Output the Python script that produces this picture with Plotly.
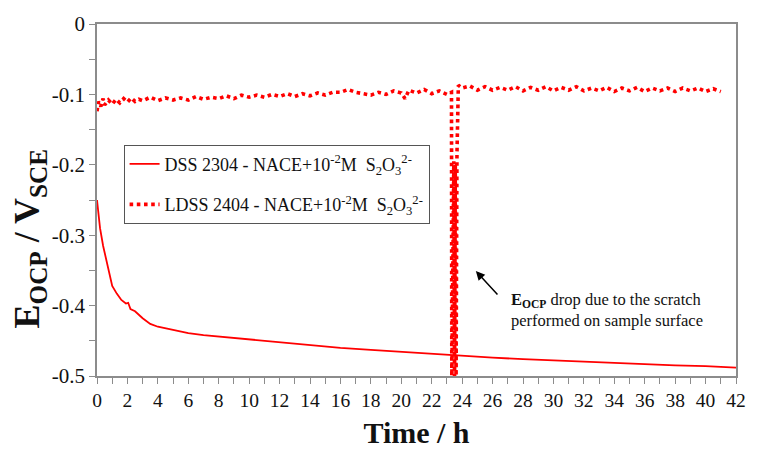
import plotly.graph_objects as go

# ---- data ----
dss_time = [0, 0.2, 0.4, 0.6, 0.8, 1.0, 1.3, 1.6, 1.9, 2.05, 2.2, 2.5, 3.0, 3.5, 4.0,
            5, 6, 7, 8, 9, 10, 12, 14, 16, 18, 20, 22, 24, 26, 28, 30, 32, 34, 36, 38, 40, 42]
dss_eocp = [-0.250, -0.290, -0.315, -0.335, -0.355, -0.372, -0.383, -0.392, -0.397, -0.396,
            -0.405, -0.408, -0.418, -0.426, -0.430, -0.435, -0.439, -0.442, -0.444, -0.447,
            -0.449, -0.453, -0.457, -0.460, -0.463, -0.466, -0.468, -0.471, -0.474, -0.476,
            -0.478, -0.480, -0.482, -0.483, -0.485, -0.486, -0.488]

ldss_time = [0, 0.1, 0.25, 0.4, 0.5, 0.75, 1, 1.25, 1.5, 1.75, 2, 2.25, 2.5, 2.75, 3, 3.5, 4, 4.5,
             5, 5.5, 6, 6.5, 7, 7.5, 8, 8.5,
             9, 9.5, 10, 10.5, 11, 11.5, 12, 12.5, 13, 13.5, 14, 14.5, 15, 15.5, 16, 16.5,
             17, 17.5, 18, 18.5, 19, 19.5, 20, 20.25, 20.5, 21, 21.5, 22, 22.5, 23, 23.3,
             23.32, 23.45, 23.5, 23.55, 23.6, 23.62, 23.66,
             23.75, 24, 24.5, 25, 25.5, 26, 26.5, 27, 27.5, 28, 28.5, 29, 29.5, 30, 30.5,
             31, 31.5, 32, 32.5, 33, 33.5, 34, 34.5, 35, 35.5, 36, 36.5, 37, 37.5, 38, 38.5,
             39, 39.5, 40, 40.5, 41, 41.5, 42]
ldss_eocp = [-0.124, -0.110, -0.117, -0.106, -0.115, -0.108, -0.114, -0.107, -0.112, -0.106,
             -0.111, -0.105, -0.110, -0.107, -0.109, -0.104, -0.109, -0.105, -0.108, -0.105,
             -0.108, -0.103, -0.107, -0.104, -0.106, -0.102,
             -0.106, -0.101, -0.104, -0.101, -0.104, -0.100, -0.103, -0.099, -0.103, -0.099,
             -0.102, -0.098, -0.101, -0.097, -0.097, -0.093, -0.097, -0.099, -0.101, -0.097,
             -0.100, -0.095, -0.098, -0.106, -0.094, -0.098, -0.093, -0.099, -0.095, -0.100, -0.097,
             -0.510, -0.195, -0.510, -0.200, -0.510, -0.190, -0.185,
             -0.087, -0.091, -0.088, -0.094, -0.089, -0.094, -0.090, -0.094, -0.089, -0.095,
             -0.090, -0.094, -0.089, -0.095, -0.090, -0.094, -0.089, -0.095, -0.091, -0.095,
             -0.090, -0.096, -0.091, -0.095, -0.090, -0.096, -0.091, -0.095, -0.091, -0.096,
             -0.091, -0.095, -0.091, -0.096, -0.092, -0.096]

x_ticks = list(range(0, 43, 2))
y_ticks = [0, -0.1, -0.2, -0.3, -0.4, -0.5]
y_tick_labels = ["0", "-0.1", "-0.2", "-0.3", "-0.4", "-0.5"]

NB = "\u00a0"
dss_label = "DSS 2304 - NACE+10<sup>-2</sup>M" + NB + NB + "S<sub>2</sub>O<sub>3</sub><sup>2-</sup>"
ldss_label = "LDSS 2404 - NACE+10<sup>-2</sup>M" + NB + NB + "S<sub>2</sub>O<sub>3</sub><sup>2-</sup>"

RED = "#ff0000"
GRAY = "#8c8c8c"
FONT = "Times New Roman, Liberation Serif, serif"
TXT = "#111111"

fig = go.Figure()
fig.add_trace(go.Scatter(x=dss_time, y=dss_eocp, mode="lines", name=dss_label,
                         legendgroup="a",
                         line=dict(color=RED, width=1.8)))
fig.add_trace(go.Scatter(x=ldss_time, y=ldss_eocp, mode="lines", name=ldss_label,
                         legendgroup="b",
                         line=dict(color=RED, width=3.6, dash="dot")))

# arrow
fig.add_annotation(x=24.9, y=-0.351, ax=23, ay=25, xref="x", yref="y",
                   text="", showarrow=True, arrowhead=2, arrowsize=1.2,
                   arrowwidth=1.5, arrowcolor="black")
fig.add_annotation(x=27.1, y=-0.406, xref="x", yref="y", xanchor="left", yanchor="middle",
                   align="left", showarrow=False,
                   text="<b>E<sub>OCP</sub></b> drop due to the scratch<br>performed on sample surface",
                   font=dict(family=FONT, size=16.5, color=TXT))

# y-axis title (placed lower than centre, as in the reference)
fig.add_annotation(x=-0.105, y=(379 - 240) / 356, xref="paper", yref="paper",
                   xanchor="center", yanchor="middle", textangle=-90, showarrow=False,
                   text="<b>E<sub>OCP</sub> / V<sub>SCE</sub></b>",
                   font=dict(family=FONT, size=36, color=TXT))

fig.update_layout(
    width=758, height=456,
    margin=dict(l=97, r=12, t=23, b=77),
    paper_bgcolor="white", plot_bgcolor="white",
    font=dict(family=FONT, color=TXT),
    showlegend=True,
    legend=dict(x=0.0416, y=0.657, xanchor="left", yanchor="top",
                bgcolor="white", bordercolor="#555555", borderwidth=1,
                font=dict(family=FONT, size=18, color=TXT),
                traceorder="grouped", tracegroupgap=14, itemwidth=30),
    xaxis=dict(range=[0, 42], tickvals=x_ticks, ticks="outside", ticklen=6,
               tickcolor=GRAY, tickwidth=1.3,
               minor=dict(dtick=1, ticks="outside", ticklen=6, tickcolor=GRAY, tickwidth=1.3),
               showline=True, linecolor=GRAY, linewidth=1.5, mirror=True,
               showgrid=False, zeroline=False,
               tickfont=dict(family=FONT, size=19.5, color=TXT),
               title=dict(text="<b>Time / h</b>", font=dict(family=FONT, size=30, color=TXT),
                          standoff=12)),
    yaxis=dict(range=[-0.5, 0], tickvals=y_ticks, ticktext=y_tick_labels,
               ticks="outside", ticklen=6, tickcolor=GRAY, tickwidth=1.3,
               minor=dict(dtick=0.05, ticks="outside", ticklen=6, tickcolor=GRAY, tickwidth=1.3),
               showline=True, linecolor=GRAY, linewidth=1.5, mirror=True,
               showgrid=False, zeroline=False,
               tickfont=dict(family=FONT, size=21, color=TXT)),
)

fig.write_html("out.html")
